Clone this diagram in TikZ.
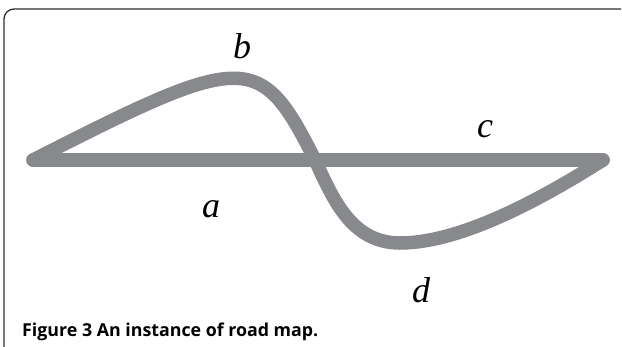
\documentclass[tikz,border=0pt]{standalone}
\usepackage{fontspec}
\setmainfont{Liberation Serif}
\newfontfamily\capfont{Open Sans}
\definecolor{roadgray}{HTML}{88898D}
\definecolor{framegray}{HTML}{2E2E2E}
\begin{document}
\begin{tikzpicture}[x=1pt,y=-1pt,
  road/.style={draw=roadgray,line width=13.5pt,line cap=round,line join=round},
  lbl/.style={font=\fontsize{36}{40}\selectfont\itshape,inner sep=0pt,anchor=base},
  frame/.style={draw=framegray,line width=1.3pt,rounded corners=10pt}]
\useasboundingbox (0,0) rectangle (622,346);
\draw[frame] (4,347) -- (4,9) -- (621,9);
\coordinate (A) at (33,160);
\coordinate (B) at (603,160);
\coordinate (X) at (315,160);
\coordinate (Q) at (400,243);
\draw[road] (A) -- (B);
\draw[road] (A) .. controls (245,52) and (260,50) .. (X)
  .. controls (332,196) and (350,243) .. (Q)
  .. controls (460,243) and (540,200) .. (B);
\node[lbl] (lb) at (242,58) {b};
\node[lbl] (lc) at (485,137) {c};
\node[lbl] (la) at (211,217) {a};
\node[lbl] (ld) at (421,302) {d};
\node[anchor=base west,inner sep=0pt,font=\capfont\bfseries\fontsize{17.8}{20}\selectfont] (cap) at (22,336) {Figure 3 An instance of road map.};
\end{tikzpicture}
\end{document}
